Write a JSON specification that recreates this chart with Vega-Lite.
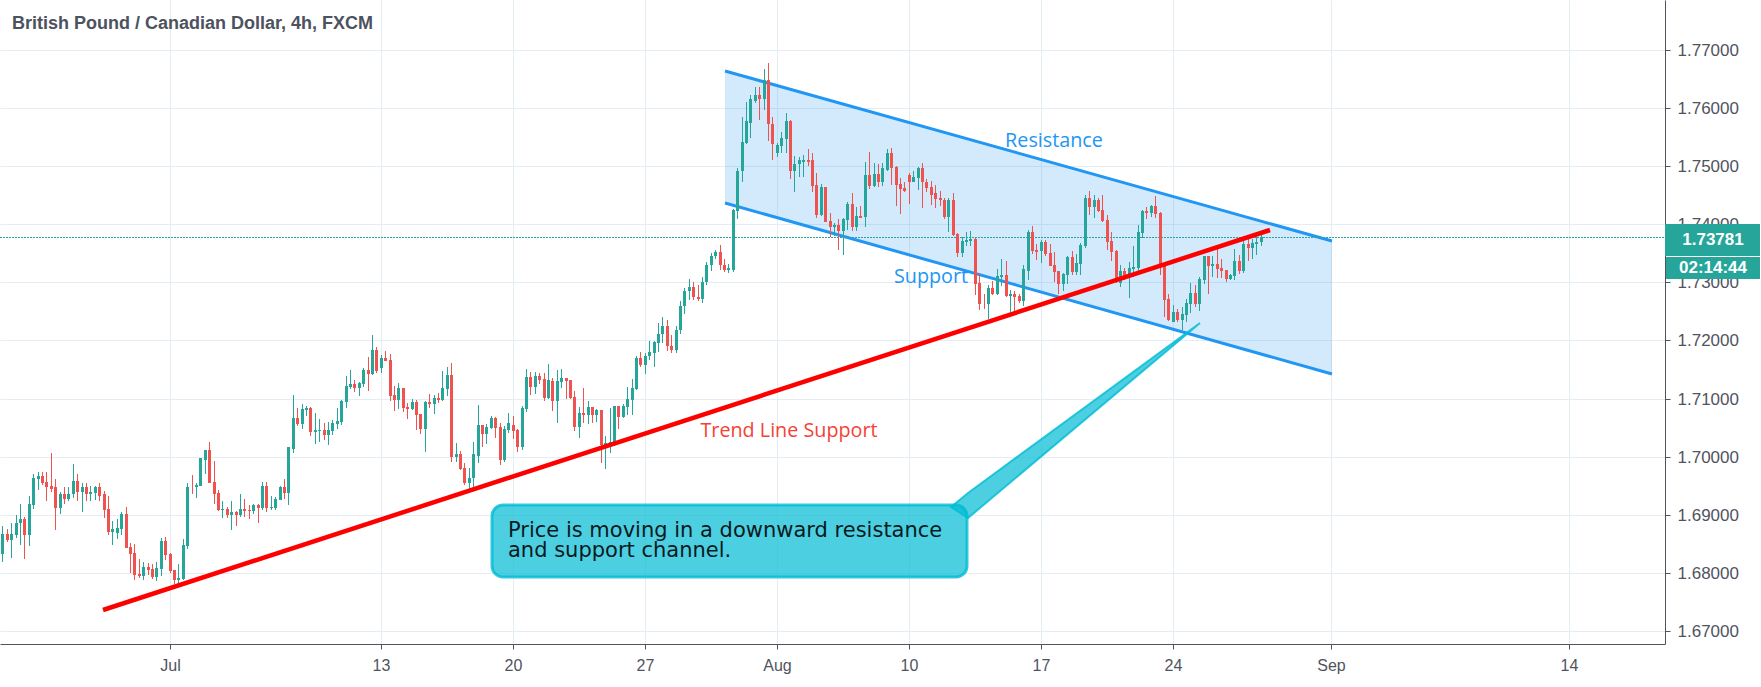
{
  "$schema": "https://vega.github.io/schema/vega-lite/v6.json",
  "width": 1665,
  "height": 644,
  "autosize": "none",
  "padding": {"left": 0, "top": 0, "right": 96, "bottom": 43},
  "background": "white",
  "datasets": {
    "candles": [
      {"b":4,"o":1.6832,"h":1.6881,"l":1.6819,"c":1.6867},
      {"b":5,"o":1.6867,"h":1.6876,"l":1.6854,"c":1.6857},
      {"b":6,"o":1.6857,"h":1.6885,"l":1.6826,"c":1.6867},
      {"b":7,"o":1.6866,"h":1.69,"l":1.686,"c":1.6886},
      {"b":8,"o":1.6885,"h":1.6919,"l":1.6848,"c":1.6893},
      {"b":9,"o":1.6893,"h":1.6897,"l":1.6824,"c":1.6866},
      {"b":10,"o":1.6866,"h":1.6933,"l":1.6847,"c":1.6919},
      {"b":11,"o":1.6917,"h":1.6971,"l":1.691,"c":1.6964},
      {"b":12,"o":1.6962,"h":1.6973,"l":1.6943,"c":1.6966},
      {"b":13,"o":1.6966,"h":1.6973,"l":1.6952,"c":1.6955},
      {"b":14,"o":1.6957,"h":1.6974,"l":1.6923,"c":1.6948},
      {"b":15,"o":1.695,"h":1.7007,"l":1.694,"c":1.6945},
      {"b":16,"o":1.6947,"h":1.6962,"l":1.6873,"c":1.6912},
      {"b":17,"o":1.6912,"h":1.694,"l":1.6902,"c":1.6935},
      {"b":18,"o":1.6935,"h":1.6947,"l":1.6919,"c":1.6928},
      {"b":19,"o":1.6928,"h":1.6948,"l":1.6924,"c":1.6936},
      {"b":20,"o":1.6935,"h":1.6988,"l":1.6929,"c":1.6959},
      {"b":21,"o":1.6959,"h":1.6971,"l":1.6924,"c":1.694},
      {"b":22,"o":1.694,"h":1.6954,"l":1.6904,"c":1.6947},
      {"b":23,"o":1.6947,"h":1.6954,"l":1.6923,"c":1.6935},
      {"b":24,"o":1.6935,"h":1.695,"l":1.6923,"c":1.694},
      {"b":25,"o":1.6938,"h":1.695,"l":1.6926,"c":1.6948},
      {"b":26,"o":1.6948,"h":1.6955,"l":1.6923,"c":1.6933},
      {"b":27,"o":1.6935,"h":1.6941,"l":1.6895,"c":1.6909},
      {"b":28,"o":1.691,"h":1.6933,"l":1.6866,"c":1.6871},
      {"b":29,"o":1.6871,"h":1.689,"l":1.6848,"c":1.6876},
      {"b":30,"o":1.6869,"h":1.6892,"l":1.6859,"c":1.6878},
      {"b":31,"o":1.6876,"h":1.6905,"l":1.6866,"c":1.6902},
      {"b":32,"o":1.6902,"h":1.6914,"l":1.6843,"c":1.6843},
      {"b":33,"o":1.6845,"h":1.6852,"l":1.68,"c":1.6833},
      {"b":34,"o":1.6835,"h":1.685,"l":1.6788,"c":1.6797},
      {"b":35,"o":1.6798,"h":1.6824,"l":1.6791,"c":1.6795},
      {"b":36,"o":1.6795,"h":1.6819,"l":1.6788,"c":1.681},
      {"b":37,"o":1.681,"h":1.6817,"l":1.6797,"c":1.6805},
      {"b":38,"o":1.6807,"h":1.6816,"l":1.679,"c":1.6793},
      {"b":39,"o":1.6793,"h":1.6819,"l":1.6786,"c":1.6809},
      {"b":40,"o":1.6807,"h":1.686,"l":1.6795,"c":1.6855},
      {"b":41,"o":1.6855,"h":1.6862,"l":1.6823,"c":1.6831},
      {"b":42,"o":1.6833,"h":1.6835,"l":1.68,"c":1.6804},
      {"b":43,"o":1.6805,"h":1.6805,"l":1.6781,"c":1.6788},
      {"b":44,"o":1.6788,"h":1.6816,"l":1.6781,"c":1.6791},
      {"b":45,"o":1.679,"h":1.6859,"l":1.6788,"c":1.6848},
      {"b":46,"o":1.6847,"h":1.6954,"l":1.6841,"c":1.6948},
      {"b":47,"o":1.6948,"h":1.6969,"l":1.6936,"c":1.6947},
      {"b":48,"o":1.6947,"h":1.6954,"l":1.6929,"c":1.6952},
      {"b":49,"o":1.695,"h":1.6998,"l":1.695,"c":1.6997},
      {"b":50,"o":1.6995,"h":1.7012,"l":1.6971,"c":1.7012},
      {"b":51,"o":1.7012,"h":1.7026,"l":1.6955,"c":1.6955},
      {"b":52,"o":1.6957,"h":1.6992,"l":1.6919,"c":1.6936},
      {"b":53,"o":1.6938,"h":1.6943,"l":1.6907,"c":1.6909},
      {"b":54,"o":1.6909,"h":1.6924,"l":1.6895,"c":1.691},
      {"b":55,"o":1.691,"h":1.6914,"l":1.6895,"c":1.69},
      {"b":56,"o":1.69,"h":1.6924,"l":1.6874,"c":1.6905},
      {"b":57,"o":1.6905,"h":1.6907,"l":1.6881,"c":1.69},
      {"b":58,"o":1.69,"h":1.6935,"l":1.6897,"c":1.691},
      {"b":59,"o":1.691,"h":1.6928,"l":1.6897,"c":1.6907},
      {"b":60,"o":1.6909,"h":1.6917,"l":1.6892,"c":1.6907},
      {"b":61,"o":1.6907,"h":1.6919,"l":1.6902,"c":1.6917},
      {"b":62,"o":1.6917,"h":1.6919,"l":1.6886,"c":1.6912},
      {"b":63,"o":1.6912,"h":1.6957,"l":1.6908,"c":1.695},
      {"b":64,"o":1.695,"h":1.6957,"l":1.6904,"c":1.6912},
      {"b":65,"o":1.6911,"h":1.6933,"l":1.6909,"c":1.6913},
      {"b":66,"o":1.6911,"h":1.6931,"l":1.6909,"c":1.6928},
      {"b":67,"o":1.6926,"h":1.6949,"l":1.6925,"c":1.6947},
      {"b":68,"o":1.6947,"h":1.6961,"l":1.6928,"c":1.6937},
      {"b":69,"o":1.6937,"h":1.7017,"l":1.6916,"c":1.7016},
      {"b":70,"o":1.7014,"h":1.7106,"l":1.7007,"c":1.7066},
      {"b":71,"o":1.7066,"h":1.7084,"l":1.7053,"c":1.7056},
      {"b":72,"o":1.7056,"h":1.709,"l":1.7047,"c":1.7082},
      {"b":73,"o":1.7081,"h":1.7087,"l":1.707,"c":1.7084},
      {"b":74,"o":1.7084,"h":1.7085,"l":1.7035,"c":1.7042},
      {"b":75,"o":1.7042,"h":1.7075,"l":1.7022,"c":1.7046},
      {"b":76,"o":1.7044,"h":1.7065,"l":1.7025,"c":1.7046},
      {"b":77,"o":1.7046,"h":1.7058,"l":1.7028,"c":1.7037},
      {"b":78,"o":1.7037,"h":1.706,"l":1.702,"c":1.7046},
      {"b":79,"o":1.7044,"h":1.7063,"l":1.7037,"c":1.7058},
      {"b":80,"o":1.7056,"h":1.7084,"l":1.7047,"c":1.7061},
      {"b":81,"o":1.706,"h":1.7098,"l":1.7054,"c":1.7096},
      {"b":82,"o":1.7094,"h":1.7139,"l":1.7084,"c":1.7122},
      {"b":83,"o":1.712,"h":1.7149,"l":1.7116,"c":1.7125},
      {"b":84,"o":1.7125,"h":1.7132,"l":1.7111,"c":1.7118},
      {"b":85,"o":1.7118,"h":1.7129,"l":1.7104,"c":1.7127},
      {"b":86,"o":1.7125,"h":1.7153,"l":1.712,"c":1.7149},
      {"b":87,"o":1.7149,"h":1.7172,"l":1.7113,"c":1.7142},
      {"b":88,"o":1.7142,"h":1.721,"l":1.7141,"c":1.7184},
      {"b":89,"o":1.7184,"h":1.7189,"l":1.7144,"c":1.7148},
      {"b":90,"o":1.7153,"h":1.7175,"l":1.7144,"c":1.717},
      {"b":91,"o":1.717,"h":1.7182,"l":1.7165,"c":1.7165},
      {"b":92,"o":1.7167,"h":1.7177,"l":1.7096,"c":1.7104},
      {"b":93,"o":1.7106,"h":1.7122,"l":1.7079,"c":1.7098},
      {"b":94,"o":1.7098,"h":1.7127,"l":1.7082,"c":1.7118},
      {"b":95,"o":1.7118,"h":1.7118,"l":1.7077,"c":1.7084},
      {"b":96,"o":1.7085,"h":1.7092,"l":1.7065,"c":1.7082},
      {"b":97,"o":1.7082,"h":1.7099,"l":1.708,"c":1.7094},
      {"b":98,"o":1.7094,"h":1.7098,"l":1.7046,"c":1.7072},
      {"b":99,"o":1.7073,"h":1.7074,"l":1.7039,"c":1.7047},
      {"b":100,"o":1.7047,"h":1.7096,"l":1.7008,"c":1.7094},
      {"b":101,"o":1.7094,"h":1.7108,"l":1.7084,"c":1.7091},
      {"b":102,"o":1.709,"h":1.7106,"l":1.7073,"c":1.7101},
      {"b":103,"o":1.7101,"h":1.711,"l":1.7092,"c":1.7098},
      {"b":104,"o":1.7097,"h":1.7147,"l":1.7095,"c":1.7119},
      {"b":105,"o":1.7117,"h":1.7155,"l":1.7104,"c":1.714},
      {"b":106,"o":1.714,"h":1.7161,"l":1.6991,"c":1.7},
      {"b":107,"o":1.6999,"h":1.7024,"l":1.6991,"c":1.7004},
      {"b":108,"o":1.7004,"h":1.7009,"l":1.6977,"c":1.6978},
      {"b":109,"o":1.698,"h":1.6989,"l":1.6952,"c":1.6955},
      {"b":110,"o":1.6955,"h":1.6981,"l":1.694,"c":1.6964},
      {"b":111,"o":1.6963,"h":1.7026,"l":1.6944,"c":1.7004},
      {"b":112,"o":1.7002,"h":1.7089,"l":1.6989,"c":1.7054},
      {"b":113,"o":1.7054,"h":1.7054,"l":1.7017,"c":1.7039},
      {"b":114,"o":1.7039,"h":1.7057,"l":1.7021,"c":1.7051},
      {"b":115,"o":1.705,"h":1.707,"l":1.7047,"c":1.7066},
      {"b":116,"o":1.7066,"h":1.7069,"l":1.7033,"c":1.7049},
      {"b":117,"o":1.7051,"h":1.7058,"l":1.6985,"c":1.6994},
      {"b":118,"o":1.6994,"h":1.7052,"l":1.699,"c":1.7047},
      {"b":119,"o":1.7046,"h":1.7075,"l":1.704,"c":1.7058},
      {"b":120,"o":1.7054,"h":1.707,"l":1.703,"c":1.7044},
      {"b":121,"o":1.7046,"h":1.7047,"l":1.7008,"c":1.7016},
      {"b":122,"o":1.7016,"h":1.7087,"l":1.7011,"c":1.7083},
      {"b":123,"o":1.7082,"h":1.7151,"l":1.7077,"c":1.7137},
      {"b":124,"o":1.7137,"h":1.7146,"l":1.7106,"c":1.712},
      {"b":125,"o":1.712,"h":1.7146,"l":1.7108,"c":1.7139},
      {"b":126,"o":1.7139,"h":1.7144,"l":1.7125,"c":1.7132},
      {"b":127,"o":1.7134,"h":1.7144,"l":1.7096,"c":1.7101},
      {"b":128,"o":1.7101,"h":1.7159,"l":1.7099,"c":1.7132},
      {"b":129,"o":1.713,"h":1.7135,"l":1.7078,"c":1.7096},
      {"b":130,"o":1.7096,"h":1.7149,"l":1.7058,"c":1.713},
      {"b":131,"o":1.7128,"h":1.7151,"l":1.7118,"c":1.7135},
      {"b":132,"o":1.7135,"h":1.7135,"l":1.7099,"c":1.713},
      {"b":133,"o":1.7132,"h":1.7132,"l":1.7099,"c":1.7101},
      {"b":134,"o":1.7102,"h":1.7113,"l":1.7044,"c":1.7051},
      {"b":135,"o":1.7051,"h":1.7085,"l":1.7033,"c":1.7075},
      {"b":136,"o":1.7075,"h":1.7118,"l":1.7058,"c":1.7071},
      {"b":137,"o":1.7071,"h":1.7096,"l":1.7056,"c":1.7085},
      {"b":138,"o":1.7085,"h":1.7085,"l":1.7058,"c":1.7071},
      {"b":139,"o":1.7071,"h":1.7082,"l":1.7059,"c":1.708},
      {"b":140,"o":1.708,"h":1.7081,"l":1.6989,"c":1.702},
      {"b":141,"o":1.7019,"h":1.7035,"l":1.6978,"c":1.7024},
      {"b":142,"o":1.702,"h":1.7083,"l":1.7006,"c":1.7026},
      {"b":143,"o":1.7024,"h":1.7088,"l":1.7019,"c":1.7087},
      {"b":144,"o":1.7087,"h":1.7088,"l":1.7047,"c":1.7068},
      {"b":145,"o":1.7068,"h":1.709,"l":1.7066,"c":1.7087},
      {"b":146,"o":1.7085,"h":1.712,"l":1.7071,"c":1.7099},
      {"b":147,"o":1.7097,"h":1.7134,"l":1.7071,"c":1.7118},
      {"b":148,"o":1.7116,"h":1.7174,"l":1.7115,"c":1.7169},
      {"b":149,"o":1.7169,"h":1.7181,"l":1.7154,"c":1.7157},
      {"b":150,"o":1.7157,"h":1.7178,"l":1.7143,"c":1.7174},
      {"b":151,"o":1.7173,"h":1.7199,"l":1.7166,"c":1.718},
      {"b":152,"o":1.7178,"h":1.7199,"l":1.7154,"c":1.7197},
      {"b":153,"o":1.7195,"h":1.723,"l":1.718,"c":1.7212},
      {"b":154,"o":1.7212,"h":1.724,"l":1.7195,"c":1.7225},
      {"b":155,"o":1.7225,"h":1.7235,"l":1.7182,"c":1.719},
      {"b":156,"o":1.719,"h":1.721,"l":1.7178,"c":1.7183},
      {"b":157,"o":1.7183,"h":1.7225,"l":1.7178,"c":1.7218},
      {"b":158,"o":1.7218,"h":1.7268,"l":1.7212,"c":1.726},
      {"b":159,"o":1.726,"h":1.729,"l":1.7245,"c":1.7285},
      {"b":160,"o":1.7285,"h":1.7305,"l":1.727,"c":1.7292},
      {"b":161,"o":1.7292,"h":1.73,"l":1.727,"c":1.7275},
      {"b":162,"o":1.7275,"h":1.7295,"l":1.7268,"c":1.7272},
      {"b":163,"o":1.7272,"h":1.731,"l":1.7265,"c":1.73},
      {"b":164,"o":1.73,"h":1.7335,"l":1.7295,"c":1.733},
      {"b":165,"o":1.733,"h":1.735,"l":1.732,"c":1.7345},
      {"b":166,"o":1.7345,"h":1.7356,"l":1.734,"c":1.7352},
      {"b":167,"o":1.7352,"h":1.7365,"l":1.7322,"c":1.733},
      {"b":168,"o":1.733,"h":1.734,"l":1.7318,"c":1.7322},
      {"b":169,"o":1.7322,"h":1.7332,"l":1.7316,"c":1.7325},
      {"b":170,"o":1.7322,"h":1.7427,"l":1.7318,"c":1.7425},
      {"b":171,"o":1.7423,"h":1.7496,"l":1.7409,"c":1.7492},
      {"b":172,"o":1.7491,"h":1.7584,"l":1.7473,"c":1.7542},
      {"b":173,"o":1.754,"h":1.761,"l":1.7539,"c":1.7577},
      {"b":174,"o":1.7575,"h":1.7622,"l":1.7549,"c":1.7615},
      {"b":175,"o":1.7613,"h":1.7637,"l":1.7608,"c":1.7622},
      {"b":176,"o":1.7622,"h":1.7637,"l":1.7579,"c":1.7616},
      {"b":177,"o":1.7616,"h":1.7668,"l":1.7597,"c":1.7648},
      {"b":178,"o":1.7648,"h":1.7677,"l":1.7544,"c":1.7572},
      {"b":179,"o":1.7573,"h":1.7584,"l":1.7511,"c":1.7539},
      {"b":180,"o":1.7522,"h":1.754,"l":1.7515,"c":1.7537},
      {"b":181,"o":1.7535,"h":1.7558,"l":1.7522,"c":1.7549},
      {"b":182,"o":1.7547,"h":1.7592,"l":1.7522,"c":1.7577},
      {"b":183,"o":1.7577,"h":1.7579,"l":1.7478,"c":1.7492},
      {"b":184,"o":1.7492,"h":1.7518,"l":1.7456,"c":1.7504},
      {"b":185,"o":1.7503,"h":1.7515,"l":1.7482,"c":1.751},
      {"b":186,"o":1.7508,"h":1.752,"l":1.7482,"c":1.751},
      {"b":187,"o":1.751,"h":1.7529,"l":1.7501,"c":1.7508},
      {"b":188,"o":1.751,"h":1.7522,"l":1.7456,"c":1.7466},
      {"b":189,"o":1.7468,"h":1.7489,"l":1.7411,"c":1.7416},
      {"b":190,"o":1.7416,"h":1.747,"l":1.7415,"c":1.7465},
      {"b":191,"o":1.7465,"h":1.7465,"l":1.7404,"c":1.7404},
      {"b":192,"o":1.7406,"h":1.742,"l":1.7378,"c":1.7396},
      {"b":193,"o":1.7396,"h":1.7403,"l":1.738,"c":1.7399},
      {"b":194,"o":1.7399,"h":1.7409,"l":1.7356,"c":1.7389},
      {"b":195,"o":1.7389,"h":1.741,"l":1.7347,"c":1.7409},
      {"b":196,"o":1.7408,"h":1.7439,"l":1.7391,"c":1.7435},
      {"b":197,"o":1.7435,"h":1.7454,"l":1.7389,"c":1.7396},
      {"b":198,"o":1.7396,"h":1.743,"l":1.7389,"c":1.7415},
      {"b":199,"o":1.7415,"h":1.7432,"l":1.741,"c":1.7411},
      {"b":200,"o":1.7413,"h":1.7508,"l":1.7396,"c":1.7485},
      {"b":201,"o":1.7485,"h":1.7525,"l":1.7461,"c":1.7466},
      {"b":202,"o":1.7466,"h":1.7506,"l":1.7465,"c":1.7487},
      {"b":203,"o":1.7487,"h":1.7504,"l":1.7465,"c":1.7473},
      {"b":204,"o":1.7473,"h":1.7506,"l":1.7466,"c":1.7496},
      {"b":205,"o":1.7494,"h":1.753,"l":1.7491,"c":1.7523},
      {"b":206,"o":1.7523,"h":1.7532,"l":1.7468,"c":1.7497},
      {"b":207,"o":1.7499,"h":1.7501,"l":1.7432,"c":1.7468},
      {"b":208,"o":1.747,"h":1.748,"l":1.7418,"c":1.7461},
      {"b":209,"o":1.7463,"h":1.7473,"l":1.7456,"c":1.7457},
      {"b":210,"o":1.7484,"h":1.7489,"l":1.7435,"c":1.7473},
      {"b":211,"o":1.7473,"h":1.7491,"l":1.7472,"c":1.7482},
      {"b":212,"o":1.748,"h":1.7499,"l":1.7459,"c":1.7497},
      {"b":213,"o":1.7497,"h":1.7506,"l":1.7428,"c":1.7472},
      {"b":214,"o":1.7473,"h":1.7478,"l":1.7456,"c":1.7463},
      {"b":215,"o":1.7465,"h":1.7475,"l":1.7434,"c":1.7451},
      {"b":216,"o":1.7453,"h":1.7468,"l":1.7428,"c":1.7444},
      {"b":217,"o":1.7446,"h":1.7458,"l":1.7432,"c":1.7441},
      {"b":218,"o":1.7442,"h":1.7446,"l":1.7409,"c":1.7413},
      {"b":219,"o":1.7413,"h":1.7446,"l":1.7387,"c":1.7442},
      {"b":220,"o":1.7442,"h":1.7453,"l":1.738,"c":1.7382},
      {"b":221,"o":1.7384,"h":1.7385,"l":1.7344,"c":1.7351},
      {"b":222,"o":1.7351,"h":1.7378,"l":1.7344,"c":1.7372},
      {"b":223,"o":1.737,"h":1.7387,"l":1.7363,"c":1.7373},
      {"b":224,"o":1.7372,"h":1.7389,"l":1.7363,"c":1.7375},
      {"b":225,"o":1.7375,"h":1.7376,"l":1.7278,"c":1.7297},
      {"b":226,"o":1.7299,"h":1.7316,"l":1.7252,"c":1.7262},
      {"b":227,"o":1.7263,"h":1.728,"l":1.7254,"c":1.7262},
      {"b":228,"o":1.7262,"h":1.7295,"l":1.7237,"c":1.729},
      {"b":229,"o":1.729,"h":1.7302,"l":1.7279,"c":1.728},
      {"b":230,"o":1.728,"h":1.7323,"l":1.7278,"c":1.7311},
      {"b":231,"o":1.7309,"h":1.734,"l":1.7293,"c":1.7312},
      {"b":232,"o":1.7312,"h":1.7337,"l":1.7274,"c":1.7276},
      {"b":233,"o":1.7276,"h":1.7287,"l":1.7245,"c":1.728},
      {"b":234,"o":1.728,"h":1.7285,"l":1.7247,"c":1.7274},
      {"b":235,"o":1.7276,"h":1.728,"l":1.7264,"c":1.7268},
      {"b":236,"o":1.7268,"h":1.733,"l":1.7259,"c":1.7323},
      {"b":237,"o":1.732,"h":1.739,"l":1.7304,"c":1.7387},
      {"b":238,"o":1.7387,"h":1.7397,"l":1.7349,"c":1.7354},
      {"b":239,"o":1.7356,"h":1.7366,"l":1.7338,"c":1.7352},
      {"b":240,"o":1.7354,"h":1.7373,"l":1.7333,"c":1.737},
      {"b":241,"o":1.737,"h":1.7373,"l":1.7345,"c":1.7349},
      {"b":242,"o":1.7351,"h":1.7366,"l":1.7328,"c":1.7328},
      {"b":243,"o":1.733,"h":1.7352,"l":1.7301,"c":1.7318},
      {"b":244,"o":1.732,"h":1.732,"l":1.728,"c":1.7297},
      {"b":245,"o":1.7297,"h":1.7316,"l":1.7285,"c":1.7314},
      {"b":246,"o":1.7313,"h":1.7345,"l":1.7297,"c":1.7344},
      {"b":247,"o":1.7344,"h":1.7354,"l":1.7313,"c":1.7318},
      {"b":248,"o":1.7318,"h":1.7349,"l":1.7313,"c":1.7333},
      {"b":249,"o":1.7332,"h":1.7368,"l":1.7313,"c":1.7364},
      {"b":250,"o":1.7363,"h":1.7451,"l":1.7359,"c":1.7445},
      {"b":251,"o":1.7445,"h":1.7458,"l":1.7416,"c":1.743},
      {"b":252,"o":1.743,"h":1.7451,"l":1.7411,"c":1.7442},
      {"b":253,"o":1.7442,"h":1.7445,"l":1.7421,"c":1.7423},
      {"b":254,"o":1.7425,"h":1.7451,"l":1.7404,"c":1.7406},
      {"b":255,"o":1.7407,"h":1.7416,"l":1.7356,"c":1.737},
      {"b":256,"o":1.7371,"h":1.7387,"l":1.7337,"c":1.7352},
      {"b":257,"o":1.7354,"h":1.7355,"l":1.7299,"c":1.7301},
      {"b":258,"o":1.7299,"h":1.733,"l":1.7292,"c":1.732},
      {"b":259,"o":1.732,"h":1.7325,"l":1.7304,"c":1.7309},
      {"b":260,"o":1.7309,"h":1.7335,"l":1.7273,"c":1.7325},
      {"b":261,"o":1.7323,"h":1.7363,"l":1.7309,"c":1.7326},
      {"b":262,"o":1.7325,"h":1.7399,"l":1.7318,"c":1.7387},
      {"b":263,"o":1.7385,"h":1.7425,"l":1.7376,"c":1.7423},
      {"b":264,"o":1.7423,"h":1.743,"l":1.7409,"c":1.742},
      {"b":265,"o":1.742,"h":1.7433,"l":1.7413,"c":1.7432},
      {"b":266,"o":1.7432,"h":1.7448,"l":1.7411,"c":1.7418},
      {"b":267,"o":1.742,"h":1.7421,"l":1.7313,"c":1.7326},
      {"b":268,"o":1.7328,"h":1.7329,"l":1.724,"c":1.727},
      {"b":269,"o":1.7271,"h":1.728,"l":1.7233,"c":1.7235},
      {"b":270,"o":1.7232,"h":1.7261,"l":1.7231,"c":1.7249},
      {"b":271,"o":1.7249,"h":1.7254,"l":1.7232,"c":1.7235},
      {"b":272,"o":1.7235,"h":1.7257,"l":1.7218,"c":1.7245},
      {"b":273,"o":1.7244,"h":1.7271,"l":1.7232,"c":1.7264},
      {"b":274,"o":1.7263,"h":1.7299,"l":1.7247,"c":1.7282},
      {"b":275,"o":1.7282,"h":1.7295,"l":1.7257,"c":1.7263},
      {"b":276,"o":1.7263,"h":1.7309,"l":1.7251,"c":1.7306},
      {"b":277,"o":1.7304,"h":1.7346,"l":1.7297,"c":1.7345},
      {"b":278,"o":1.7345,"h":1.7346,"l":1.728,"c":1.7328},
      {"b":279,"o":1.7328,"h":1.7345,"l":1.7309,"c":1.7332},
      {"b":280,"o":1.7332,"h":1.7363,"l":1.7307,"c":1.7323},
      {"b":281,"o":1.7325,"h":1.734,"l":1.7307,"c":1.732},
      {"b":282,"o":1.7321,"h":1.7322,"l":1.7301,"c":1.7306},
      {"b":283,"o":1.7306,"h":1.7314,"l":1.7304,"c":1.7313},
      {"b":284,"o":1.7311,"h":1.7357,"l":1.7304,"c":1.7337},
      {"b":285,"o":1.7337,"h":1.7347,"l":1.7314,"c":1.732},
      {"b":286,"o":1.732,"h":1.7379,"l":1.7316,"c":1.7366},
      {"b":287,"o":1.7366,"h":1.7379,"l":1.7337,"c":1.7359},
      {"b":288,"o":1.7359,"h":1.7375,"l":1.734,"c":1.7368},
      {"b":289,"o":1.7366,"h":1.7378,"l":1.7347,"c":1.737},
      {"b":290,"o":1.7369,"h":1.7385,"l":1.7363,"c":1.73781}
    ],
    "channel": [
      {"b":168.2,"p":1.76644,"p2":1.74361},
      {"b":306.1,"p":1.73713,"p2":1.71423}
    ]
  },
  "config": {
    "view": {"stroke": null},
    "axis": {
      "title": null,
      "grid": true,
      "gridColor": "#e4edf3",
      "gridWidth": 1,
      "domainColor": "#50535e",
      "tickColor": "#50535e",
      "tickSize": 5,
      "labelColor": "#50535e",
      "labelFont": "Liberation Sans",
      "labelOverlap": false
    }
  },
  "encoding": {
    "x": {
      "field": "b",
      "type": "quantitative",
      "scale": {"domain": [3.4545, 381.8636], "nice": false, "zero": false, "round": true},
      "axis": {
        "values": [42, 90, 120, 150, 180, 210, 240, 270, 306, 360],
        "labelExpr": "datum.value==42?'Jul':datum.value==90?'13':datum.value==120?'20':datum.value==150?'27':datum.value==180?'Aug':datum.value==210?'10':datum.value==240?'17':datum.value==270?'24':datum.value==306?'Sep':'14'",
        "labelFontSize": 16,
        "labelPadding": 8
      }
    },
    "y": {
      "field": "p",
      "type": "quantitative",
      "scale": {"domain": [1.66776, 1.7786], "nice": false, "zero": false, "round": true},
      "axis": {
        "orient": "right",
        "values": [1.67, 1.68, 1.69, 1.70, 1.71, 1.72, 1.73, 1.74, 1.75, 1.76, 1.77],
        "format": ".5f",
        "labelFontSize": 17,
        "labelPadding": 7
      }
    }
  },
  "layer": [
    {
      "data": {"name": "channel"},
      "mark": {"type": "area", "color": "#2196f3", "opacity": 0.2},
      "encoding": {"y2": {"field": "p2"}}
    },
    {
      "data": {"name": "channel"},
      "mark": {"type": "line", "color": "#2196f3", "strokeWidth": 3}
    },
    {
      "data": {"name": "channel"},
      "mark": {"type": "line", "color": "#2196f3", "strokeWidth": 3},
      "encoding": {
        "y": {
          "field": "p2",
          "type": "quantitative",
          "axis": {"orient": "right", "values": [1.67, 1.68, 1.69, 1.70, 1.71, 1.72, 1.73, 1.74, 1.75, 1.76, 1.77], "format": ".5f", "labelFontSize": 17, "labelPadding": 7}
        }
      }
    },
    {
      "data": {"values": [{"b": 3.4545, "b2": 381.8636, "p": 1.73781}]},
      "mark": {"type": "rule", "color": "#26a69a", "strokeWidth": 1, "strokeDash": [2, 1], "yOffset": 0.5},
      "encoding": {"x2": {"field": "b2"}}
    },
    {
      "data": {"name": "candles"},
      "mark": {"type": "rule", "strokeWidth": 1, "xOffset": 0.5},
      "encoding": {
        "y": {
          "field": "l",
          "type": "quantitative",
          "axis": {"orient": "right", "values": [1.67, 1.68, 1.69, 1.70, 1.71, 1.72, 1.73, 1.74, 1.75, 1.76, 1.77], "format": ".5f", "labelFontSize": 17, "labelPadding": 7}
        },
        "y2": {"field": "h"},
        "color": {"condition": {"test": "datum.c >= datum.o", "value": "#26a69a"}, "value": "#ef5350"}
      }
    },
    {
      "data": {"name": "candles"},
      "mark": {"type": "rule", "strokeWidth": 3, "xOffset": 0.5},
      "encoding": {
        "y": {
          "field": "o",
          "type": "quantitative",
          "axis": {"orient": "right", "values": [1.67, 1.68, 1.69, 1.70, 1.71, 1.72, 1.73, 1.74, 1.75, 1.76, 1.77], "format": ".5f", "labelFontSize": 17, "labelPadding": 7}
        },
        "y2": {"field": "c"},
        "color": {"condition": {"test": "datum.c >= datum.o", "value": "#26a69a"}, "value": "#ef5350"}
      }
    },
    {
      "data": {"values": [{"b": 26.8, "p": 1.67361}, {"b": 292, "p": 1.73902}]},
      "mark": {"type": "line", "color": "#ff0000", "strokeWidth": 4.5}
    },
    {
      "data": {"values": [
        {"b": 219.6, "p": 1.69134, "p2": 1.69134},
        {"b": 223.4, "p": 1.69372, "p2": 1.68945},
        {"b": 276.1, "p": 1.72301, "p2": 1.72301}
      ]},
      "mark": {"type": "area", "fill": "#00bcd4", "fillOpacity": 0.7, "stroke": "#00bcd4", "strokeOpacity": 0.8, "strokeWidth": 2},
      "encoding": {"y2": {"field": "p2"}}
    },
    {
      "data": {"values": [{"b": 115.2, "b2": 223.2, "p": 1.69169, "p2": 1.67929}]},
      "mark": {"type": "rect", "fill": "#00bcd4", "fillOpacity": 0.7, "stroke": "#00bcd4", "strokeOpacity": 0.8, "strokeWidth": 3, "cornerRadius": 11},
      "encoding": {"x2": {"field": "b2"}, "y2": {"field": "p2"}}
    },
    {
      "data": {"values": [
        {"b": 118.8, "p": 1.68623, "label": "Price is moving in a downward resistance"},
        {"b": 118.8, "p": 1.68274, "label": "and support channel."}
      ]},
      "mark": {"type": "text", "align": "left", "baseline": "alphabetic", "font": "DejaVu Sans", "fontSize": 21, "color": "#0b1a1e"},
      "encoding": {"text": {"field": "label"}}
    },
    {
      "data": {"values": [
        {"b": 242.95, "p": 1.75434, "label": "Resistance"},
        {"b": 215.1, "p": 1.73093, "label": "Support"}
      ]},
      "mark": {"type": "text", "align": "center", "baseline": "middle", "font": "Open Sans", "fontSize": 19.75, "color": "#2196f3"},
      "encoding": {"text": {"field": "label"}}
    },
    {
      "data": {"values": [{"b": 182.7, "p": 1.70442, "label": "Trend Line Support"}]},
      "mark": {"type": "text", "align": "center", "baseline": "middle", "font": "Open Sans", "fontSize": 19.75, "color": "#f44336"},
      "encoding": {"text": {"field": "label"}}
    },
    {
      "data": {"values": [{"b": 6.14, "p": 1.77448, "label": "British Pound / Canadian Dollar, 4h, FXCM"}]},
      "mark": {"type": "text", "align": "left", "baseline": "middle", "font": "Liberation Sans", "fontSize": 18, "fontWeight": "bold", "color": "#4c525e"},
      "encoding": {"text": {"field": "label"}}
    },
    {
      "data": {"values": [
        {"b": 381.86, "b2": 403.5, "p": 1.74005, "p2": 1.7346},
        {"b": 382.15, "b2": 403.5, "p": 1.73443, "p2": 1.73058}
      ]},
      "mark": {"type": "rect", "fill": "#26a69a", "clip": false},
      "encoding": {"x2": {"field": "b2"}, "y2": {"field": "p2"}}
    },
    {
      "data": {"values": [
        {"b": 392.7, "p": 1.7373, "label": "1.73781"},
        {"b": 392.7, "p": 1.73255, "label": "02:14:44"}
      ]},
      "mark": {"type": "text", "align": "center", "baseline": "middle", "font": "Liberation Sans", "fontSize": 17, "fontWeight": "bold", "color": "white"},
      "encoding": {"text": {"field": "label"}}
    }
  ]
}
